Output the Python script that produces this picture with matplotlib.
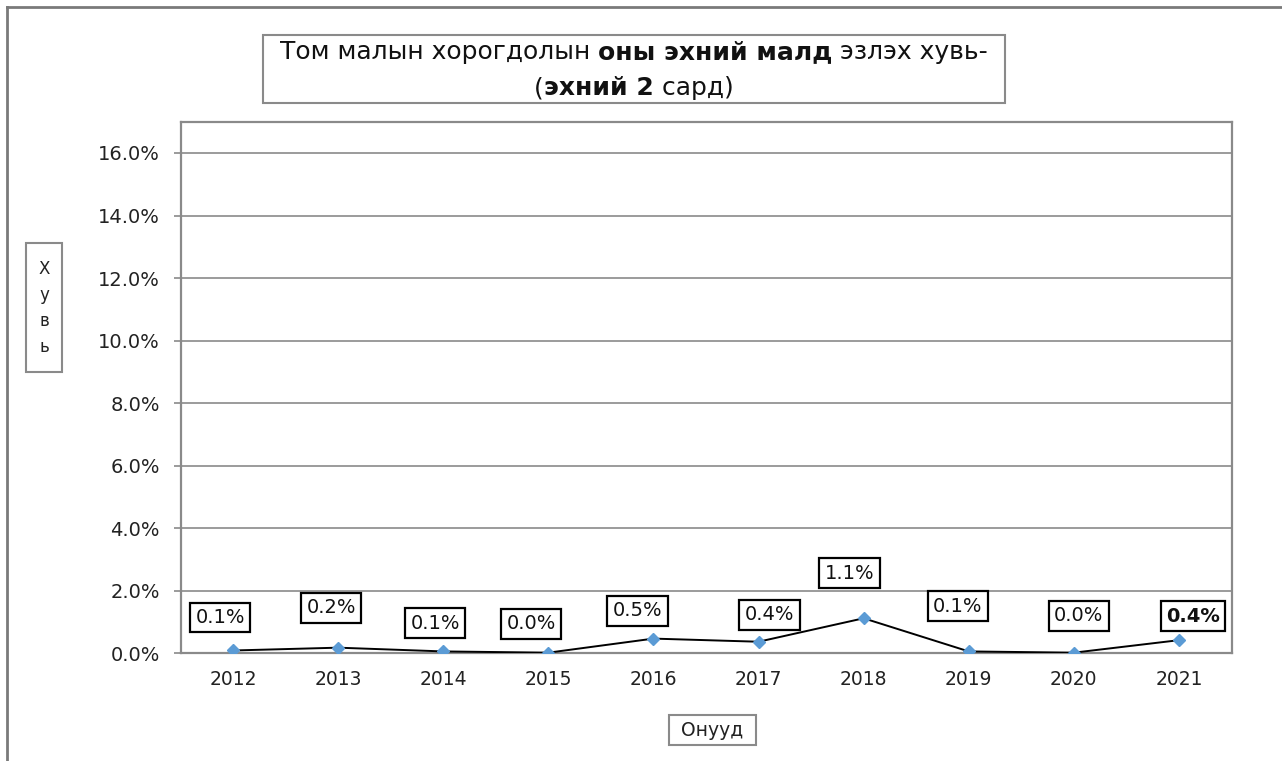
import matplotlib
matplotlib.use("Agg")
import matplotlib.pyplot as plt
from matplotlib.ticker import FuncFormatter
from matplotlib.offsetbox import TextArea, HPacker, VPacker, AnnotationBbox
from matplotlib.patches import Rectangle

# ---- data ----
years = ["2012", "2013", "2014", "2015", "2016", "2017", "2018", "2019", "2020", "2021"]
shares = [0.0009, 0.0018, 0.0006, 0.0002, 0.0047, 0.0037, 0.0112, 0.0006, 0.0002, 0.0042]
value_labels = ["0.1%", "0.2%", "0.1%", "0.0%", "0.5%", "0.4%", "1.1%", "0.1%", "0.0%", "0.4%"]
y_ticks = [0.0, 0.02, 0.04, 0.06, 0.08, 0.10, 0.12, 0.14, 0.16]

# ---- label placement (pixels, style only) ----
label_dx = [-13, -7, -8, -17, -16, 11, -14, -11, 5, 14]
label_dy = [33, 40, 28, 29, 28, 27, 45, 45, 37, 24]
label_bold = [False] * 9 + [True]

W, H = 1282, 761
fig = plt.figure(figsize=(W / 100, H / 100), dpi=100)
fig.patch.set_facecolor("white")
plt.rcParams['font.family'] = ['DejaVu Sans']

grey = "#8a8a8a"

# outer frame (left and top visible)
fig.add_artist(plt.Line2D([6.5 / W, 6.5 / W], [0, 1 - 6.5 / H], transform=fig.transFigure,
                          color="#7a7a7a", lw=2.0))
fig.add_artist(plt.Line2D([6.5 / W, 1], [1 - 6.5 / H, 1 - 6.5 / H], transform=fig.transFigure,
                          color="#7a7a7a", lw=2.0))

left, right, bottom, top = 180.5, 1231.5, 653.3, 121.7
ax = fig.add_axes([left / W, 1 - bottom / H, (right - left) / W, (bottom - top) / H])

x = list(range(len(years)))
ax.plot(x, shares, color="black", lw=1.4, zorder=3)
ax.plot(x, shares, linestyle="none", marker="D", markersize=6.5, color="#5b9bd5",
        markeredgecolor="#5b9bd5", zorder=4)

ax.set_xlim(-0.5, len(years) - 0.5)
ax.set_ylim(0, 0.17)
ax.set_yticks(y_ticks)
ax.yaxis.set_major_formatter(FuncFormatter(lambda v, p: f"{v * 100:.1f}%"))
ax.set_xticks(x)
ax.set_xticklabels(years)
ax.tick_params(axis="y", length=5, width=1.2, color=grey, labelsize=14, pad=10, labelcolor="#222222")
ax.tick_params(axis="x", length=0, labelsize=13.5, pad=12, labelcolor="#222222")
ax.grid(axis="y", color=grey, lw=1.2)
ax.set_axisbelow(True)
for s in ax.spines.values():
    s.set_color(grey)
    s.set_linewidth(1.6)

for i, (xi, yi) in enumerate(zip(x, shares)):
    ax.annotate(value_labels[i], (xi, yi), xytext=(label_dx[i], label_dy[i]),
                textcoords="offset pixels", ha="center", va="center", fontsize=14,
                fontweight="bold" if label_bold[i] else "normal", color="#111111",
                bbox=dict(boxstyle="square,pad=0.28", fc="white", ec="black", lw=1.6), zorder=5)

# title box with mixed weights
fs = 18
line1 = HPacker(children=[
    TextArea("Том малын хорогдолын ", textprops=dict(fontsize=fs, color="#111111")),
    TextArea("оны эхний малд", textprops=dict(fontsize=fs, color="#111111", fontweight="bold")),
    TextArea(" эзлэх хувь-", textprops=dict(fontsize=fs, color="#111111")),
], align="baseline", pad=0, sep=0)
line2 = HPacker(children=[
    TextArea("(", textprops=dict(fontsize=fs, color="#111111")),
    TextArea("эхний 2", textprops=dict(fontsize=fs, color="#111111", fontweight="bold")),
    TextArea(" сард)", textprops=dict(fontsize=fs, color="#111111")),
], align="baseline", pad=0, sep=0)
title_box = VPacker(children=[line1, line2], align="center", pad=0, sep=9)
ab = AnnotationBbox(title_box, ((263 + 1005) / 2 / W, 1 - 70 / H), xycoords="figure fraction",
                    frameon=False, box_alignment=(0.5, 0.5))
fig.add_artist(ab)
fig.add_artist(Rectangle((263 / W, 1 - 103 / H), (1005 - 263) / W, 68 / H, transform=fig.transFigure,
                         fill=False, ec=grey, lw=1.5))

# y axis label box
fig.text(44 / W, 1 - 308 / H, "Х\nу\nв\nь", ha="center", va="center", fontsize=12,
         linespacing=1.55, color="#222222")
fig.add_artist(Rectangle((26 / W, 1 - 372 / H), 36 / W, 129 / H, transform=fig.transFigure,
                         fill=False, ec=grey, lw=1.5))

# x axis label box
fig.text(712 / W, 1 - 730 / H, "Онууд", ha="center", va="center", fontsize=13.5, color="#222222")
fig.add_artist(Rectangle((669 / W, 1 - 745 / H), 87 / W, 30 / H, transform=fig.transFigure,
                         fill=False, ec=grey, lw=1.5))

fig.savefig("out.png", dpi=100, facecolor="white")
